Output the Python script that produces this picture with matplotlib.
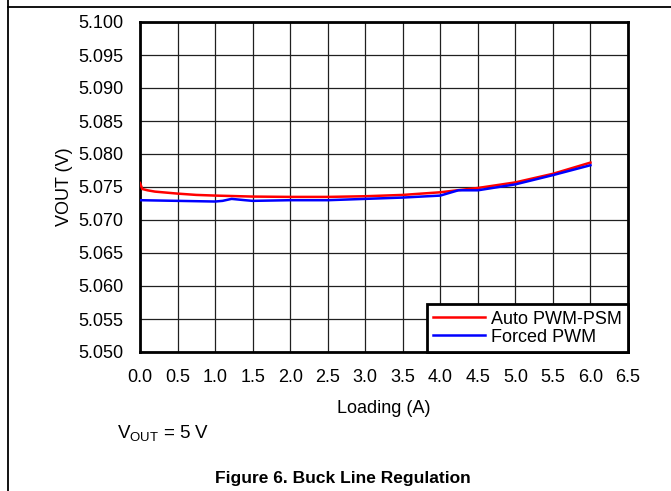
import matplotlib
matplotlib.use("Agg")
import matplotlib.pyplot as plt
from matplotlib.lines import Line2D

plt.rcParams['font.family'] = ['Liberation Sans', 'DejaVu Sans']
plt.rcParams['mathtext.fontset'] = 'custom'
plt.rcParams['mathtext.rm'] = 'Liberation Sans'

# load current (A) and output voltage (V)
auto_load = [0.0, 0.03, 0.1, 0.2, 0.5, 0.75, 1.0, 1.5, 2.0, 2.5, 3.0, 3.5,
             4.0, 4.3, 4.5, 5.0, 5.5, 6.0]
auto_vout = [5.0756, 5.0747, 5.0745, 5.0743, 5.0740, 5.0738, 5.0737, 5.07355,
             5.0735, 5.0735, 5.0736, 5.0738, 5.0742, 5.0746, 5.07485, 5.0757,
             5.0770, 5.0787]

forced_load = [0.0, 0.5, 1.0, 1.1, 1.22, 1.4, 1.5, 2.0, 2.5, 3.0, 3.5, 4.0,
               4.24, 4.5, 5.0, 5.5, 6.0]
forced_vout = [5.0730, 5.0729, 5.0728, 5.0729, 5.0732, 5.0730, 5.0729, 5.0730,
               5.0730, 5.0732, 5.0734, 5.0737, 5.0745, 5.0745, 5.0754, 5.0768,
               5.0783]

x_ticks = [0.0, 0.5, 1.0, 1.5, 2.0, 2.5, 3.0, 3.5, 4.0, 4.5, 5.0, 5.5, 6.0, 6.5]
y_ticks = [5.050, 5.055, 5.060, 5.065, 5.070, 5.075, 5.080, 5.085, 5.090,
           5.095, 5.100]

W, H = 671, 491
fig = plt.figure(figsize=(W / 100, H / 100), dpi=100)

# page borders (left edge and top rule)
fig.add_artist(Line2D([8 / W, 8 / W], [0, 1], color='black', lw=1.3))
fig.add_artist(Line2D([8 / W, 1], [1 - 7 / H, 1 - 7 / H], color='black', lw=1.3))

ax = fig.add_axes([140 / W, 1 - 352 / H, 488 / W, 330 / H])

ax.plot(auto_load, auto_vout, color='#ff0000', lw=1.8, label='Auto PWM-PSM', zorder=3)
ax.plot(forced_load, forced_vout, color='#0000ff', lw=1.8, label='Forced PWM', zorder=3)

ax.set_xlim(0, 6.5)
ax.set_ylim(5.050, 5.100)
ax.set_xticks(x_ticks)
ax.set_yticks(y_ticks)
ax.set_xticklabels(['%.1f' % v for v in x_ticks])
ax.set_yticklabels(['%.3f' % v for v in y_ticks])
ax.tick_params(length=0, labelsize=13)
ax.tick_params(axis='y', pad=12)
ax.tick_params(axis='x', pad=12)
ax.grid(True, color='#202020', lw=0.9)
ax.set_axisbelow(True)
for s in ax.spines.values():
    s.set_linewidth(2)

ax.set_xlabel('Loading (A)', fontsize=13, labelpad=10)
ax.set_ylabel('VOUT (V)', fontsize=13, labelpad=3.5)

leg = ax.legend(loc='lower right', fontsize=13, borderaxespad=0, fancybox=False,
                framealpha=1, edgecolor='black', handlelength=2.9,
                handletextpad=0.3, labelspacing=0.05, borderpad=0.35)
leg.get_frame().set_linewidth(2)

fig.text(117 / W, 1 - 439 / H, r'V$_{\mathregular{OUT}}$ = 5 V', fontsize=13.5,
         va='baseline', ha='left')
fig.text(343 / W, 1 - 478 / H, 'Figure 6. Buck Line Regulation', fontsize=12.5,
         fontweight='bold', ha='center', va='center')

fig.savefig('out.png', dpi=100)
